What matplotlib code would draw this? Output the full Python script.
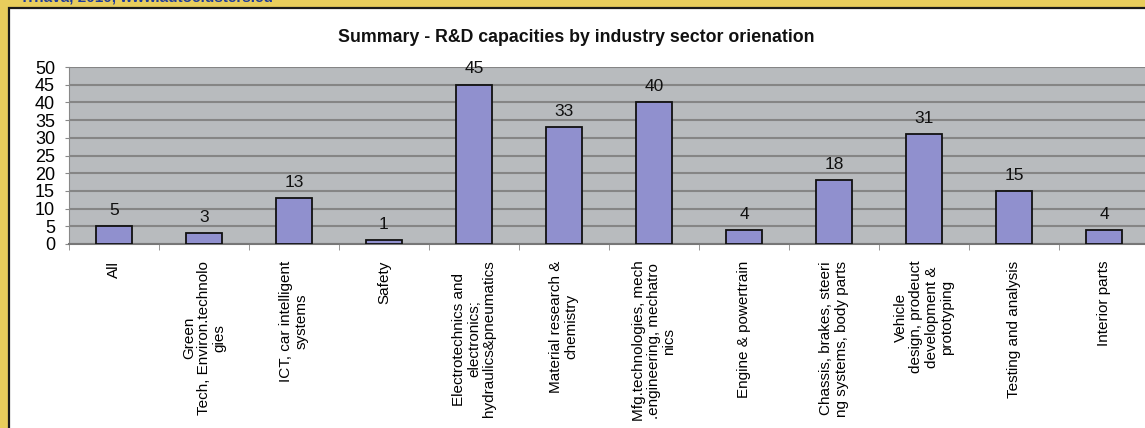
import numpy as np
import matplotlib
matplotlib.use("Agg")
import matplotlib.pyplot as plt
from matplotlib.patches import Rectangle

plt.rcParams['font.family'] = ['Liberation Sans', 'DejaVu Sans']

# R&D capacities per industry sector
sectors = [
    "All",
    "Green\nTech, Environ.technolo\ngies",
    "ICT, car intelligent\nsystems",
    "Safety",
    "Electrotechnics and\nelectronics;\nhydraulics&pneumatics",
    "Material research &\nchemistry",
    "Mfg.technologies, mech\n.engineering, mechatro\nnics",
    "Engine & powertrain",
    "Chassis, brakes, steeri\nng systems, body parts",
    "Vehicle\ndesign, prodeuct\ndevelopment &\nprototyping",
    "Testing and analysis",
    "Interior parts",
]
capacities = [5, 3, 13, 1, 45, 33, 40, 4, 18, 31, 15, 4]
y_ticks = list(range(0, 55, 5))

W, H = 1145, 428
fig = plt.figure(figsize=(W / 100, H / 100), dpi=100, facecolor='#E8CD5C')

# white panel with dark frame inside the yellow border
fig.patches.append(Rectangle((9 / W, -0.05), 1.05, 1 - 8 / H + 0.05,
                             transform=fig.transFigure, facecolor='white',
                             edgecolor='#1a1a1a', linewidth=1.6, zorder=-5))
fig.text(20 / W, 1 - 1.5 / H, "Trnava, 2010, www.autoclusters.eu", color='#1F3C9C',
         fontsize=11, fontweight='bold', va='baseline', ha='left')

fig.text(576 / W, 1 - 37 / H, "Summary - R&D capacities by industry sector orienation",
         fontsize=12.8, fontweight='bold', ha='center', va='center', color='#111111')

ax = fig.add_axes([69 / W, 184 / H, 1080 / W, 177 / H])
ax.set_facecolor('#B8BBBE')

x = np.arange(len(sectors))
bars = ax.bar(x, capacities, width=0.4, color='#9090CE', edgecolor='#111111',
              linewidth=1.3, zorder=3)
for xi, v in zip(x, capacities):
    ax.annotate(str(v), (xi, v), xytext=(0, 6), textcoords='offset points',
                ha='center', va='bottom', fontsize=12.5, color='#111111')

ax.set_xlim(-0.5, len(sectors) - 0.5)
ax.set_ylim(0, 50)
ax.set_yticks(y_ticks)
ax.set_yticklabels([str(t) for t in y_ticks], fontsize=13)
ax.yaxis.grid(True, color='#858585', linewidth=1.5, zorder=1)
ax.set_axisbelow(True)

ax.set_xticks(x)
ax.set_xticklabels(sectors, rotation=90, fontsize=11, multialignment='center',
                   linespacing=1.1)
ax.tick_params(axis='x', which='major', length=0, pad=12)
ax.set_xticks(np.arange(-0.5, len(sectors), 1.0), minor=True)
ax.tick_params(axis='x', which='minor', length=4, color='#888888')
ax.tick_params(axis='y', length=3, pad=7, color='#888888')

for side in ['top', 'right']:
    ax.spines[side].set_visible(False)
ax.spines['left'].set_color('#888888')
ax.spines['bottom'].set_color('#777777')
ax.spines['bottom'].set_linewidth(1.5)

fig.savefig('out.png', dpi=100, facecolor=fig.get_facecolor())
